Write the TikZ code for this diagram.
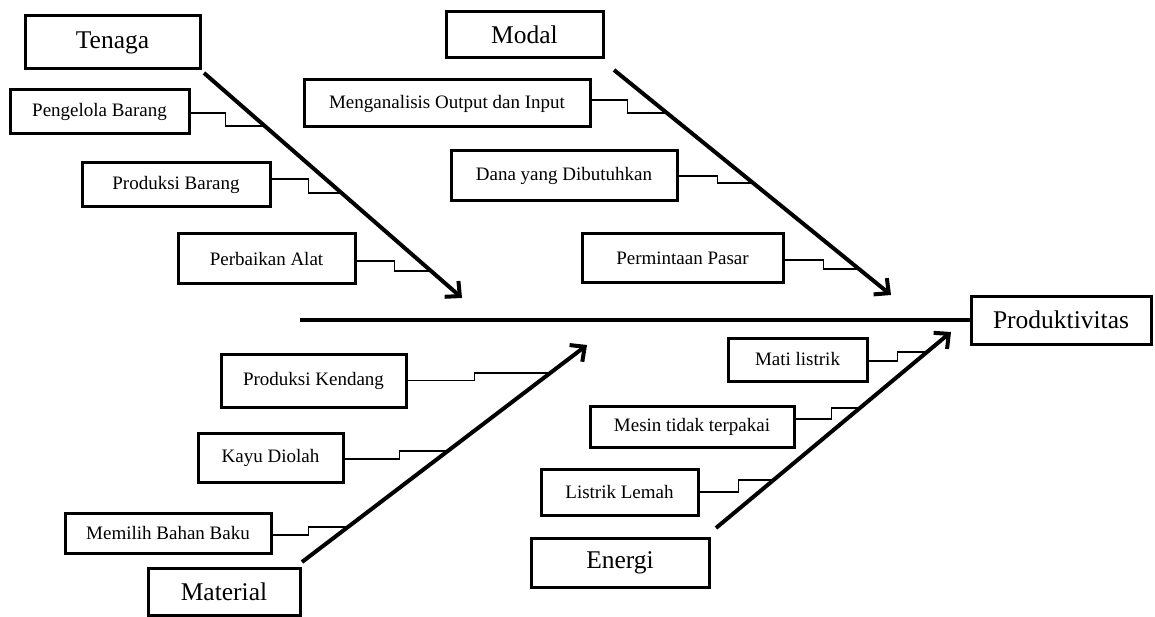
\documentclass[tikz,border=0pt]{standalone}
\usepackage{fontspec}
\setmainfont{Liberation Serif}
\usetikzlibrary{arrows.meta}
\begin{document}
\begin{tikzpicture}[x=1pt,y=-1pt,
  box/.style={draw,line width=3pt,inner sep=0pt,align=center},
  small/.style={box,font=\fontsize{19}{22}\selectfont},
  big/.style={box,font=\fontsize{25.5}{30}\selectfont},
  bone/.style={line width=4pt,-{Straight Barb[length=11pt,width=21pt]}},
  spine/.style={line width=4pt},
  stepln/.style={line width=1.3pt}]
\useasboundingbox (0,0) rectangle (1155,617);
% main boxes
\node[big,minimum width=175pt,minimum height=53pt] (ten) at (112.5,42.5) {Tenaga};
\node[big,minimum width=157pt,minimum height=46pt] (mod) at (524.5,35) {Modal};
\node[big,minimum width=180pt,minimum height=48pt] (prod) at (1061,320) {Produktivitas};
\node[big,minimum width=152pt,minimum height=47pt] (mat) at (224,591.5) {Material};
\node[big,minimum width=178pt,minimum height=49pt] (ene) at (620,562.5) {Energi};
% cause boxes
\node[small,minimum width=179pt,minimum height=44pt] (peng) at (99.5,112) {Pengelola Barang};
\node[small,minimum width=188pt,minimum height=44pt] (pbar) at (176,185) {Produksi Barang};
\node[small,minimum width=177pt,minimum height=50pt] (perb) at (266.5,259) {Perbaikan Alat};
\node[small,minimum width=286pt,minimum height=47pt] (meng) at (447,103.5) {Menganalisis Output dan Input};
\node[small,minimum width=226pt,minimum height=50pt] (dana) at (564,176) {Dana yang Dibutuhkan};
\node[small,minimum width=201pt,minimum height=49pt] (perm) at (682.5,258.5) {Permintaan Pasar};
\node[small,minimum width=185pt,minimum height=53pt] (pken) at (313.5,380.5) {Produksi Kendang};
\node[small,minimum width=145pt,minimum height=49pt] (kayu) at (270.5,457.5) {Kayu Diolah};
\node[small,minimum width=206pt,minimum height=40pt] (memi) at (168,533) {Memilih Bahan Baku};
\node[small,minimum width=139pt,minimum height=43pt] (mati) at (797.5,359.5) {Mati listrik};
\node[small,minimum width=204pt,minimum height=41pt] (mesi) at (692,426.5) {Mesin tidak terpakai};
\node[small,minimum width=157pt,minimum height=46pt] (list) at (619.5,492) {Listrik Lemah};
% bone coordinates
\coordinate (tenS) at (204,73);  \coordinate (tenT) at (462,298);
\coordinate (modS) at (614,70);  \coordinate (modT) at (891,295);
\coordinate (matS) at (302,562); \coordinate (matT) at (587,345);
\coordinate (eneS) at (716,528); \coordinate (eneT) at (951,332);
\coordinate (spS) at (300,320);
% joints on bones
\coordinate (j1) at (264.8,126); \coordinate (j2) at (341.6,193); \coordinate (j3) at (431,271);
\coordinate (j4) at (666.9,113); \coordinate (j5) at (753.1,183); \coordinate (j6) at (859,269);
\coordinate (j7) at (550.2,373); \coordinate (j8) at (447.8,451); \coordinate (j9) at (348,527);
\coordinate (j10) at (927,352); \coordinate (j11) at (859.9,408); \coordinate (j12) at (773.6,480);
% spine and bones
\draw[spine] (spS) -- (prod.west);
\draw[bone] (tenS) -- (tenT);
\draw[bone] (modS) -- (modT);
\draw[bone] (matS) -- (matT);
\draw[bone] (eneS) -- (eneT);
% step connectors
\draw[stepln] ([yshift=-1pt]peng.east) -- ++(35,0) |- (j1);
\draw[stepln] ([yshift=6pt]pbar.east) -- ++(37,0) |- (j2);
\draw[stepln] ([yshift=-2pt]perb.east) -- ++(38,0) |- (j3);
\draw[stepln] ([yshift=3.5pt]meng.east) -- ++(36,0) |- (j4);
\draw[stepln] (dana.east) -- ++(39,0) |- (j5);
\draw[stepln] ([yshift=-1.5pt]perm.east) -- ++(39,0) |- (j6);
\draw[stepln] (pken.east) -- ++(67,0) |- (j7);
\draw[stepln] ([yshift=-1.5pt]kayu.east) -- ++(55,0) |- (j8);
\draw[stepln] ([yshift=-2pt]memi.east) -- ++(36,0) |- (j9);
\draw[stepln] ([yshift=-1.5pt]mati.east) -- ++(29,0) |- (j10);
\draw[stepln] ([yshift=7.5pt]mesi.east) -- ++(36,0) |- (j11);
\draw[stepln] (list.east) -- ++(39,0) |- (j12);
\end{tikzpicture}
\end{document}
